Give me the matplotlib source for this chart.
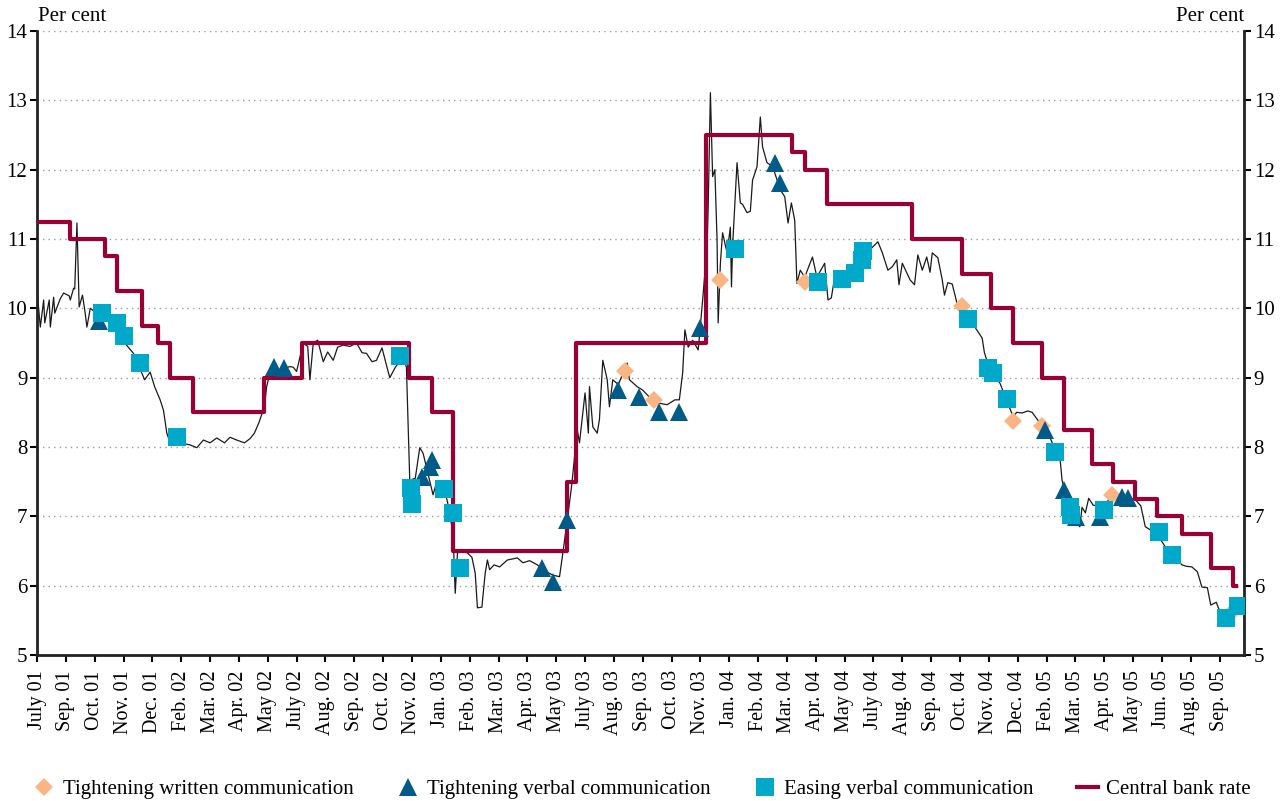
import matplotlib
matplotlib.use("Agg")
import matplotlib.pyplot as plt
import numpy as np

plt.rcParams['font.family'] = ['Liberation Serif', 'DejaVu Serif']

# x axis = trading-day index from July 2001, one tick label every 26 days
tick_labels = ['July 01', 'Sep. 01', 'Oct. 01', 'Nov. 01', 'Dec. 01', 'Feb. 02', 'Mar. 02',
               'Apr. 02', 'May 02', 'July 02', 'Aug. 02', 'Sep. 02', 'Oct. 02', 'Nov. 02',
               'Jan. 03', 'Feb. 03', 'Mar. 03', 'Apr. 03', 'May 03', 'July 03', 'Aug. 03',
               'Sep. 03', 'Oct. 03', 'Nov. 03', 'Jan. 04', 'Feb. 04', 'Mar. 04', 'Apr. 04',
               'May 04', 'July 04', 'Aug. 04', 'Sep. 04', 'Oct. 04', 'Nov. 04', 'Dec. 04',
               'Feb. 05', 'Mar. 05', 'Apr. 05', 'May 05', 'Jun. 05', 'Aug. 05', 'Sep. 05']
tick_step = 26
x_end = 1088

# central bank rate: day of change and new level
rate_day = [0, 30, 61, 72, 95, 109, 120, 141, 205, 239, 335, 356, 375, 478, 486, 603,
            681, 692, 712, 789, 834, 860, 880, 906, 926, 951, 970, 990, 1010, 1032,
            1058, 1078, 1081]
rate_val = [11.25, 11.00, 10.75, 10.25, 9.75, 9.50, 9.00, 8.50, 9.00, 9.50, 9.00, 8.50,
            6.50, 7.50, 9.50, 12.50, 12.25, 12.00, 11.50, 11.00, 10.50, 10.00, 9.50,
            9.00, 8.25, 7.75, 7.50, 7.25, 7.00, 6.75, 6.25, 6.00, 6.00]

# market rate (thin black line)
mkt_day = [0, 3, 6, 7, 11, 12, 15, 16, 21, 24, 29, 30, 33, 34, 36, 38, 41, 43, 45, 48,
           52, 61, 69, 79, 87, 97, 102, 106, 111, 114, 117, 120, 129, 138, 144, 150, 156,
           162, 169, 174, 180, 187, 192, 196, 200, 205, 207, 210, 216, 228, 231, 234, 240,
           244, 246, 249, 253, 258, 262, 267, 271, 276, 282, 288, 293, 297, 302, 306, 311,
           315, 318, 323, 330, 333, 336, 341, 345, 348, 351, 357, 360, 366, 370, 375, 377,
           379, 383, 388, 392, 395, 397, 401, 404, 406, 408, 412, 417, 424, 433, 438, 444,
           451, 456, 465, 471, 474, 478, 482, 487, 489, 494, 497, 498, 501, 505, 507, 510,
           514, 516, 519, 524, 532, 534, 541, 546, 552, 561, 568, 575, 579, 582, 584, 587,
           591, 596, 600, 604, 605, 607, 609, 611, 613, 614, 616, 618, 622, 625, 626, 627,
           631, 634, 636, 640, 643, 645, 649, 652, 654, 658, 663, 670, 674, 677, 680, 683,
           685, 688, 692, 699, 703, 710, 713, 716, 719, 730, 739, 748, 758, 762, 767, 771,
           775, 777, 780, 787, 791, 794, 798, 802, 805, 807, 812, 816, 818, 821, 825, 829,
           834, 841, 847, 852, 854, 859, 868, 874, 880, 883, 888, 893, 897, 902, 907, 913,
           918, 922, 924, 929, 935, 940, 942, 945, 948, 952, 958, 967, 975, 985, 990, 995,
           999, 1006, 1013, 1017, 1023, 1026, 1032, 1036, 1041, 1046, 1050, 1055, 1058,
           1063, 1068, 1075, 1084]
mkt_val = [10.26, 9.73, 10.12, 9.79, 10.12, 9.73, 10.16, 9.93, 10.14, 10.22, 10.18, 10.12,
           10.29, 10.28, 11.23, 10.02, 10.19, 9.98, 9.73, 10.00, 9.95, 9.88, 9.79, 9.50,
           9.35, 8.97, 9.08, 8.87, 8.68, 8.53, 8.20, 8.06, 8.06, 8.03, 7.99, 8.10, 8.06,
           8.13, 8.06, 8.14, 8.10, 8.06, 8.12, 8.20, 8.35, 8.58, 8.87, 9.07, 9.10, 9.16,
           9.15, 9.09, 9.50, 9.45, 8.97, 9.50, 9.54, 9.23, 9.37, 9.25, 9.44, 9.47, 9.45,
           9.50, 9.36, 9.35, 9.23, 9.25, 9.43, 9.18, 9.00, 9.15, 9.30, 9.15, 7.52, 7.55,
           7.99, 7.91, 7.71, 7.31, 7.48, 7.45, 7.21, 6.76, 5.89, 6.47, 6.51, 6.47, 6.41,
           6.18, 5.68, 5.69, 6.18, 6.37, 6.23, 6.30, 6.27, 6.37, 6.40, 6.33, 6.36, 6.30,
           6.23, 6.15, 6.13, 6.47, 6.95, 7.45, 8.25, 8.06, 8.78, 8.20, 8.87, 8.29, 8.20,
           8.40, 9.25, 8.97, 8.58, 8.97, 8.90, 9.21, 8.97, 8.87, 8.82, 8.72, 8.63, 8.61,
           8.68, 8.68, 9.07, 9.69, 9.44, 9.54, 9.40, 10.12, 10.89, 11.46, 13.11, 11.90,
           12.00, 10.99, 9.79, 10.65, 11.09, 10.80, 11.17, 10.31, 10.89, 12.10, 11.52,
           11.50, 11.38, 11.40, 11.85, 12.04, 12.76, 12.33, 12.10, 12.05, 11.71, 11.61,
           11.23, 11.52, 11.27, 10.36, 10.55, 10.45, 10.74, 10.45, 10.65, 10.12, 10.15,
           10.45, 10.50, 10.60, 10.80, 10.96, 10.80, 10.55, 10.60, 10.70, 10.34, 10.65,
           10.41, 10.34, 10.77, 10.55, 10.74, 10.52, 10.80, 10.73, 10.41, 10.19, 10.37,
           10.35, 10.09, 10.00, 9.85, 9.69, 9.57, 9.36, 9.11, 8.92, 8.68, 8.43, 8.50,
           8.49, 8.52, 8.50, 8.39, 8.29, 8.14, 7.95, 7.86, 7.52, 7.20, 6.95, 6.85, 7.13,
           7.05, 7.26, 7.16, 7.15, 7.24, 7.28, 7.26, 7.24, 7.15, 6.85, 6.78, 6.66, 6.56,
           6.45, 6.41, 6.30, 6.28, 6.27, 6.20, 5.98, 5.97, 5.72, 5.76, 5.55, 5.60, 5.65]

# communication events
tw_day = [530, 556, 616, 692, 834, 880, 906, 969, 1077]
tw_val = [9.10, 8.68, 10.41, 10.38, 10.03, 8.37, 8.30, 7.31, 5.62]

tv_day = [56, 214, 223, 347, 354, 356, 455, 465, 478, 524, 543, 561, 579, 598, 665, 670,
          909, 926, 937, 958, 978, 983]
tv_val = [9.82, 9.15, 9.14, 7.57, 7.71, 7.81, 6.25, 6.05, 6.95, 8.82, 8.72, 8.51, 8.51,
          9.72, 12.10, 11.81, 8.25, 7.38, 6.99, 6.99, 7.28, 7.27]

ev_day = [59, 72, 78, 93, 126, 327, 337, 338, 367, 375, 381, 629, 704, 726, 737, 744, 745,
          839, 857, 862, 874, 918, 931, 932, 962, 1011, 1023, 1072, 1083]
ev_val = [9.93, 9.79, 9.60, 9.21, 8.14, 9.31, 7.41, 7.18, 7.39, 7.05, 6.25, 10.86, 10.38,
          10.43, 10.51, 10.70, 10.83, 9.85, 9.14, 9.07, 8.69, 7.93, 7.14, 7.02, 7.09, 6.78,
          6.44, 5.53, 5.71]

fig = plt.figure(figsize=(12.85, 8.01), dpi=100)
ax = fig.add_axes([0.0288, 0.1823, 0.9393, 0.779])

for y in range(6, 15):
    ax.axhline(y, color='#999999', lw=1.0, ls=(0, (1, 3)), zorder=0)

ax.plot(mkt_day, mkt_val, color='#1a1a1a', lw=0.9, zorder=2)
ax.plot(rate_day, rate_val, drawstyle='steps-post', color='#9b0034', lw=3,
        zorder=3, label='Central bank rate')
ax.plot(tw_day, tw_val, 'D', color='#fbb583', ms=9.5, mew=0, zorder=4,
        label='Tightening written communication')
ax.plot(tv_day, tv_val, '^', color='#005b88', ms=13, mew=0, zorder=5,
        label='Tightening verbal communication')
ax.plot(ev_day, ev_val, 's', color='#00a9c9', ms=13, mew=0, zorder=6,
        label='Easing verbal communication')

ax.set_xlim(0, x_end)
ax.set_ylim(5, 14)
ax.set_yticks(range(5, 15))
ax.set_xticks(np.arange(len(tick_labels)) * tick_step)
ax.set_xticklabels(tick_labels, rotation=90, fontsize=14.5)
ax.tick_params(axis='y', labelsize=15, left=True, right=True, labelleft=True,
               labelright=True, direction='out', length=5, width=1.5, pad=2)
ax.tick_params(axis='x', direction='out', length=5, width=1.5, pad=6)

ax.spines['top'].set_visible(False)
for s in ['left', 'right', 'bottom']:
    ax.spines[s].set_linewidth(2)
    ax.spines[s].set_color('#222222')

fig.text(0.0296, 0.968, 'Per cent', fontsize=15, ha='left', va='bottom')
fig.text(0.968, 0.968, 'Per cent', fontsize=15, ha='right', va='bottom')

h, l = ax.get_legend_handles_labels()
order = [1, 2, 3, 0]
fig.legend([h[i] for i in order], [l[i] for i in order], loc='lower left', ncol=4,
           bbox_to_anchor=(0.02, -0.008, 0.96, 0.03), mode='expand', frameon=False,
           fontsize=15, handlelength=1.0, handletextpad=0.4, borderaxespad=0.0)

fig.savefig('out.png', dpi=100)
